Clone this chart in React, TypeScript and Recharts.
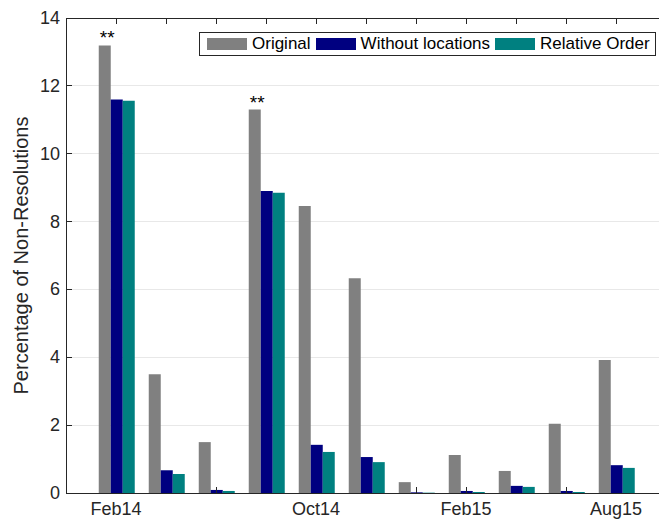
import React from 'react';
import {
  BarChart,
  Bar,
  XAxis,
  YAxis,
  CartesianGrid,
  Legend,
  LabelList,
  ReferenceLine,
} from 'recharts';

// Survey periods (only some are labelled on the axis)
const tickLabels = ['Feb14', '', '', '', 'Oct14', '', '', 'Feb15', '', '', 'Aug15'];
// Percentage of non-resolutions per period
const original = [13.19, 3.5, 1.5, 11.3, 8.46, 6.33, 0.32, 1.12, 0.65, 2.04, 3.92];
const withoutLocations = [11.6, 0.67, 0.09, 8.9, 1.42, 1.06, 0.02, 0.06, 0.21, 0.06, 0.82];
const relativeOrder = [11.56, 0.56, 0.06, 8.85, 1.21, 0.91, 0.01, 0.03, 0.18, 0.03, 0.74];
// Significance markers above the original bars
const significance = ['**', '', '', '**', '', '', '', '', '', '', ''];
const yTicks = [0, 2, 4, 6, 8, 10, 12, 14];
const yMax = 14;
const seriesNames = ['Original', 'Without locations', 'Relative Order'];

const data = tickLabels.map((label, i) => ({
  label,
  original: original[i],
  withoutLocations: withoutLocations[i],
  relativeOrder: relativeOrder[i],
  sig: significance[i],
}));

const FONT = '"Liberation Sans", Arial, Helvetica, sans-serif';
const AXIS = '#262626';
const TICK_LEN = 6;
// a bottom tick stays visible only where the middle bar is shorter than the tick
const TICK_VALUE = 0.18;

const CHART_W = 670;
const CHART_H = 522;
const MARGIN = { top: 18, right: 4, bottom: 0, left: 0 };
const X_AXIS_H = 29;
const PLOT_H = CHART_H - MARGIN.top - MARGIN.bottom - X_AXIS_H;

const crisp = { shapeRendering: 'crispEdges' as const };

// Bottom axis tick: label, inward tick mark, and the matching tick on the top frame edge
const BottomTick = (props: any) => {
  const { x, y, payload, index } = props;
  const i = payload?.index ?? index;
  const showLine = withoutLocations[i] < TICK_VALUE;
  const top = y - PLOT_H;
  return (
    <g>
      {showLine && (
        <line x1={x} x2={x} y1={y} y2={y - TICK_LEN} stroke={AXIS} strokeWidth={1} {...crisp} />
      )}
      <line x1={x} x2={x} y1={top} y2={top + TICK_LEN} stroke={AXIS} strokeWidth={1} {...crisp} />
      {payload.value ? (
        <text x={x} y={y + 22} textAnchor="middle" fill={AXIS} fontSize={18} fontFamily={FONT}>
          {payload.value}
        </text>
      ) : null}
    </g>
  );
};

const LeftTick = (props: any) => {
  const { x, y, payload } = props;
  return (
    <g>
      <line x1={x} x2={x + TICK_LEN} y1={y} y2={y} stroke={AXIS} strokeWidth={1} {...crisp} />
      <text x={x - 6} y={y + 6} textAnchor="end" fill={AXIS} fontSize={18} fontFamily={FONT}>
        {payload.value}
      </text>
    </g>
  );
};

const YLabel = (props: any) => {
  const vb = props.viewBox || {};
  const cx = (vb.x ?? 0) + 28;
  const cy = (vb.y ?? 0) + (vb.height ?? 0) / 2;
  return (
    <text
      x={cx}
      y={cy}
      transform={`rotate(-90 ${cx} ${cy})`}
      textAnchor="middle"
      fill={AXIS}
      fontSize={20}
      fontFamily={FONT}
    >
      Percentage of Non-Resolutions
    </text>
  );
};

const Stars = (props: any) => {
  const { x, y, value } = props;
  if (!value) return null;
  return (
    <text x={Number(x) + 1} y={Number(y) - 1} fill="#000" fontSize={19} fontFamily={FONT}>
      {value}
    </text>
  );
};

const LegendBox = (props: any) => {
  const items = [...(props.payload || [])].sort(
    (a: any, b: any) => seriesNames.indexOf(a.value) - seriesNames.indexOf(b.value)
  );
  return (
    <div
      style={{
        boxSizing: 'border-box',
        width: 457,
        height: 24,
        border: `1px solid ${AXIS}`,
        background: '#fff',
        display: 'flex',
        alignItems: 'center',
        paddingLeft: 7,
        fontFamily: FONT,
        fontSize: 17,
        color: '#000',
        whiteSpace: 'nowrap',
      }}
    >
      {items.map((entry: any) => (
        <span key={entry.value} style={{ display: 'flex', alignItems: 'center', marginRight: 5 }}>
          <span style={{ width: 40, height: 12, background: entry.color, marginRight: 5 }} />
          {entry.value}
        </span>
      ))}
    </div>
  );
};

export default function App() {
  return (
    <div
      style={{
        position: 'fixed',
        left: 0,
        top: 0,
        width: 659,
        height: 522,
        overflow: 'hidden',
        background: '#fff',
      }}
    >
      <BarChart
        width={CHART_W}
        height={CHART_H}
        data={data}
        margin={MARGIN}
        barCategoryGap="15.5%"
        barGap={0}
      >
        <CartesianGrid vertical={false} stroke="#e8e8e8" {...crisp} />
        <XAxis
          dataKey="label"
          height={X_AXIS_H}
          padding={{ left: 25, right: 25 }}
          axisLine={{ stroke: AXIS, ...crisp }}
          tickLine={false}
          tickSize={0}
          tickMargin={0}
          interval={0}
          tick={<BottomTick />}
        />
        <YAxis
          width={66}
          domain={[0, yMax]}
          ticks={yTicks}
          interval={0}
          axisLine={{ stroke: AXIS, ...crisp }}
          tickLine={false}
          tickSize={0}
          tickMargin={0}
          tick={<LeftTick />}
          label={<YLabel />}
        />
        <ReferenceLine y={yMax} stroke={AXIS} strokeWidth={1} ifOverflow="visible" {...crisp} />
        <Legend
          layout="horizontal"
          verticalAlign="middle"
          align="center"
          content={<LegendBox />}
          wrapperStyle={{ left: 199, top: 32, width: 457, height: 24 }}
        />
        <Bar dataKey="original" name="Original" fill="#808080" isAnimationActive={false}>
          <LabelList dataKey="sig" content={<Stars />} />
        </Bar>
        <Bar dataKey="withoutLocations" name="Without locations" fill="#000080" isAnimationActive={false} />
        <Bar dataKey="relativeOrder" name="Relative Order" fill="#008080" isAnimationActive={false} />
      </BarChart>
    </div>
  );
}
